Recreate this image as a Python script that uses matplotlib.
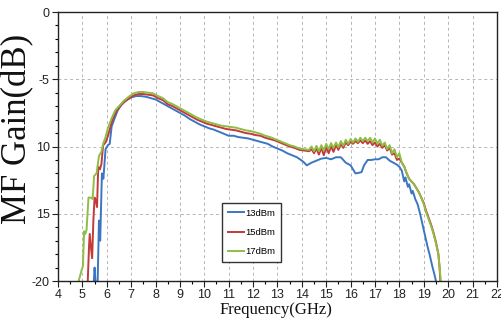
import matplotlib
matplotlib.use('Agg')
import matplotlib.pyplot as plt
from matplotlib.ticker import MultipleLocator, FixedLocator, FixedFormatter

# 17 dBm (green)
freq_17 = [4.85, 4.95, 5.02, 5.07, 5.12, 5.17, 5.25, 5.35, 5.42, 5.48, 5.58, 5.68, 5.78, 5.85, 5.95,
           6.05, 6.2, 6.35, 6.5, 6.7, 6.9, 7.1, 7.3, 7.5, 7.7, 7.9, 8.1, 8.3, 8.5, 8.7, 8.9,
           9.1, 9.3, 9.5, 9.7, 9.9, 10.1, 10.3, 10.5, 10.7, 10.9, 11.1, 11.3, 11.5, 11.7, 11.9,
           12.1, 12.3, 12.5, 12.7, 12.9, 13.1, 13.3, 13.5, 13.7, 13.9, 14.1, 14.3,
           14.4, 14.5, 14.6, 14.7, 14.8, 14.9, 15.0, 15.1, 15.2, 15.3, 15.4, 15.5, 15.6, 15.7,
           15.8, 15.9, 16.0, 16.1, 16.2, 16.3, 16.4, 16.5, 16.6, 16.7, 16.8, 16.9, 17.0, 17.1,
           17.2, 17.3, 17.4, 17.5, 17.6, 17.7, 17.8, 17.9, 18.0, 18.1, 18.2, 18.3, 18.4, 18.5,
           18.6, 18.7, 18.8, 18.9, 19.0, 19.1, 19.2, 19.3, 19.4, 19.5, 19.6, 19.65, 19.7]
gain_17 = [-20.0, -19.3, -18.9, -16.3, -16.5, -16.2, -13.8, -13.8, -13.9, -12.2, -12.0, -10.7, -10.4, -9.8, -9.3,
           -8.6, -7.9, -7.3, -7.0, -6.6, -6.3, -6.05, -5.95, -5.95, -6.0, -6.05, -6.25, -6.4, -6.7, -6.85, -7.05,
           -7.25, -7.45, -7.65, -7.85, -8.0, -8.15, -8.25, -8.35, -8.45, -8.5, -8.55, -8.6, -8.7, -8.8, -8.85,
           -8.95, -9.05, -9.2, -9.3, -9.45, -9.6, -9.75, -9.9, -10.0, -10.15, -10.2, -10.25,
           -10.0, -10.35, -9.95, -10.35, -9.9, -10.3, -9.8, -10.2, -9.75, -10.1, -9.7, -10.05, -9.6, -9.95,
           -9.5, -9.8, -9.45, -9.7, -9.4, -9.65, -9.35, -9.6, -9.35, -9.6, -9.35, -9.7, -9.4, -9.8,
           -9.5, -9.95, -9.7, -10.2, -9.9, -10.5, -10.2, -10.8, -10.5, -11.2, -11.5, -12.0, -12.4, -12.6,
           -12.8, -13.1, -13.4, -13.8, -14.3, -14.9, -15.4, -15.9, -16.5, -17.2, -18.0, -19.0, -20.0]

# 15 dBm (red)
freq_15 = [5.22, 5.27, 5.3, 5.35, 5.4, 5.45, 5.5, 5.55, 5.6, 5.65, 5.72, 5.78, 5.85, 5.95,
           6.05, 6.2, 6.35, 6.5, 6.7, 6.9, 7.1, 7.3, 7.5, 7.7, 7.9, 8.1, 8.3, 8.5, 8.7, 8.9,
           9.1, 9.3, 9.5, 9.7, 9.9, 10.1, 10.3, 10.5, 10.7, 10.9, 11.1, 11.3, 11.5, 11.7, 11.9,
           12.1, 12.3, 12.5, 12.7, 12.9, 13.1, 13.3, 13.5, 13.7, 13.9, 14.1, 14.3,
           14.4, 14.5, 14.6, 14.7, 14.8, 14.9, 15.0, 15.1, 15.2, 15.3, 15.4, 15.5, 15.6, 15.7,
           15.8, 15.9, 16.0, 16.1, 16.2, 16.3, 16.4, 16.5, 16.6, 16.7, 16.8, 16.9, 17.0, 17.1,
           17.2, 17.3, 17.4, 17.5, 17.6, 17.7, 17.8, 17.9, 18.0, 18.1, 18.2, 18.3, 18.4, 18.5,
           18.6, 18.7, 18.8, 18.9, 19.0, 19.1, 19.2, 19.3, 19.4, 19.5, 19.6, 19.65, 19.68]
gain_15 = [-20.0, -17.5, -16.5, -17.5, -18.3, -15.5, -13.8, -14.0, -14.5, -11.5, -11.7, -11.3, -9.9, -9.7,
           -9.2, -8.2, -7.5, -7.1, -6.7, -6.45, -6.2, -6.1, -6.1, -6.15, -6.2, -6.4, -6.55, -6.85, -7.0, -7.2,
           -7.4, -7.6, -7.8, -8.0, -8.15, -8.3, -8.4, -8.5, -8.6, -8.7, -8.75, -8.8, -8.9, -9.0, -9.05,
           -9.15, -9.2, -9.35, -9.45, -9.55, -9.7, -9.85, -10.0, -10.1, -10.25, -10.3, -10.35,
           -10.2, -10.5, -10.15, -10.6, -10.1, -10.65, -10.05, -10.5, -10.0, -10.4, -9.9, -10.25, -9.8, -10.1,
           -9.7, -9.9, -9.65, -9.8, -9.6, -9.75, -9.55, -9.75, -9.55, -9.8, -9.6, -9.9, -9.7, -10.0,
           -9.8, -10.1, -9.9, -10.3, -10.1, -10.6, -10.5, -11.0, -10.9, -11.2, -11.5, -12.0, -12.4, -12.6,
           -12.8, -13.1, -13.4, -13.8, -14.2, -14.8, -15.3, -15.8, -16.4, -17.1, -18.0, -19.0, -20.0]

# 13 dBm (blue)
freq_13 = [5.47, 5.5, 5.55, 5.62, 5.68, 5.73, 5.8, 5.86, 5.95, 6.05, 6.12, 6.2, 6.3, 6.45, 6.6, 6.8,
           7.0, 7.2, 7.4, 7.6, 7.8, 8.0, 8.2, 8.4, 8.6, 8.8, 9.0, 9.2, 9.4, 9.6, 9.8, 10.0, 10.2,
           10.4, 10.6, 10.8, 11.0, 11.2, 11.4, 11.6, 11.8, 12.0, 12.2, 12.4, 12.6, 12.8, 13.0,
           13.2, 13.4, 13.6, 13.8, 14.0, 14.1, 14.2, 14.3, 14.4, 14.6, 14.8, 15.0, 15.2, 15.4,
           15.6, 15.8, 16.0, 16.1, 16.2, 16.35, 16.45, 16.55, 16.7, 16.85, 17.0, 17.15, 17.3,
           17.45, 17.6, 17.75, 17.9, 18.0, 18.1, 18.2, 18.25, 18.35, 18.4, 18.5, 18.55, 18.65,
           18.75, 18.85, 18.95, 19.05, 19.15, 19.25, 19.35, 19.45, 19.5]
gain_13 = [-20.0, -19.0, -20.5, -20.5, -15.5, -17.0, -12.0, -12.4, -10.2, -9.9, -9.8, -8.5, -8.0, -7.3, -6.9, -6.55,
           -6.35, -6.25, -6.25, -6.3, -6.4, -6.5, -6.7, -6.9, -7.1, -7.3, -7.5, -7.7, -7.95, -8.15, -8.35, -8.5, -8.65,
           -8.75, -8.9, -9.05, -9.2, -9.2, -9.3, -9.35, -9.4, -9.5, -9.6, -9.7, -9.8, -10.0, -10.15,
           -10.3, -10.5, -10.65, -10.8, -11.05, -11.2, -11.4, -11.3, -11.2, -11.05, -10.9, -10.85, -10.95, -10.8,
           -10.8, -11.2, -11.4, -11.7, -12.0, -11.95, -11.9, -11.4, -11.0, -11.0, -10.95, -10.95, -10.8,
           -10.8, -11.05, -11.2, -11.35, -11.5, -11.8, -12.6, -12.3, -13.0, -12.8, -13.5, -13.3, -13.9,
           -14.3, -15.0, -15.8, -16.6, -17.4, -18.1, -18.9, -19.6, -20.0]

y_ticks = [-20, -15, -10, -5, 0]
y_tick_labels = ['-20', '15', '10', '-5', '0']
x_ticks = list(range(4, 23))

fig = plt.figure(figsize=(5.01, 3.22), dpi=100)
ax = fig.add_axes([0.1158, 0.1273, 0.876, 0.8354])

ax.plot(freq_13, gain_13, color='#3b76c3', lw=1.4, label='13dBm')
ax.plot(freq_15, gain_15, color='#c4393a', lw=1.4, label='15dBm')
ax.plot(freq_17, gain_17, color='#8fbd45', lw=1.4, label='17dBm')

ax.set_xlim(4, 22)
ax.set_ylim(-20, 0)
ax.xaxis.set_major_locator(FixedLocator(x_ticks))
ax.xaxis.set_minor_locator(MultipleLocator(0.5))
ax.yaxis.set_major_locator(FixedLocator(y_ticks))
ax.yaxis.set_major_formatter(FixedFormatter(y_tick_labels))
ax.yaxis.set_minor_locator(MultipleLocator(1))

ax.tick_params(axis='both', which='major', direction='out', length=4, width=0.8,
               labelsize=9, pad=2, colors='#222222')
ax.tick_params(axis='x', which='major', pad=1.5)
ax.tick_params(axis='both', which='minor', direction='out', length=2.5, width=0.8)
for lab in ax.get_xticklabels() + ax.get_yticklabels():
    lab.set_fontfamily('Liberation Sans')

ax.grid(True, which='major', linestyle=(0, (3, 3)), color='#b5b5b5', lw=0.7)
for sp in ax.spines.values():
    sp.set_color('#222222')
    sp.set_linewidth(1.0)

leg = ax.legend(loc='lower left', bbox_to_anchor=(0.3736, 0.0706), borderaxespad=0,
                fancybox=False, edgecolor='#333333', framealpha=1,
                handlelength=1.7, handletextpad=0.15, labelspacing=1.1,
                borderpad=0.6, prop={'family': 'Liberation Sans', 'size': 6.8})
leg.get_frame().set_linewidth(1.0)

fig.text(0.036, 0.60, 'MF Gain(dB)', rotation=90, ha='center', va='center',
         fontsize=25, family='Liberation Serif', color='#111111')
fig.text(0.551, 0.036, 'Frequency(GHz)', ha='center', va='center',
         fontsize=12, family='Liberation Serif', color='#111111')

fig.savefig('out.png', dpi=100)
